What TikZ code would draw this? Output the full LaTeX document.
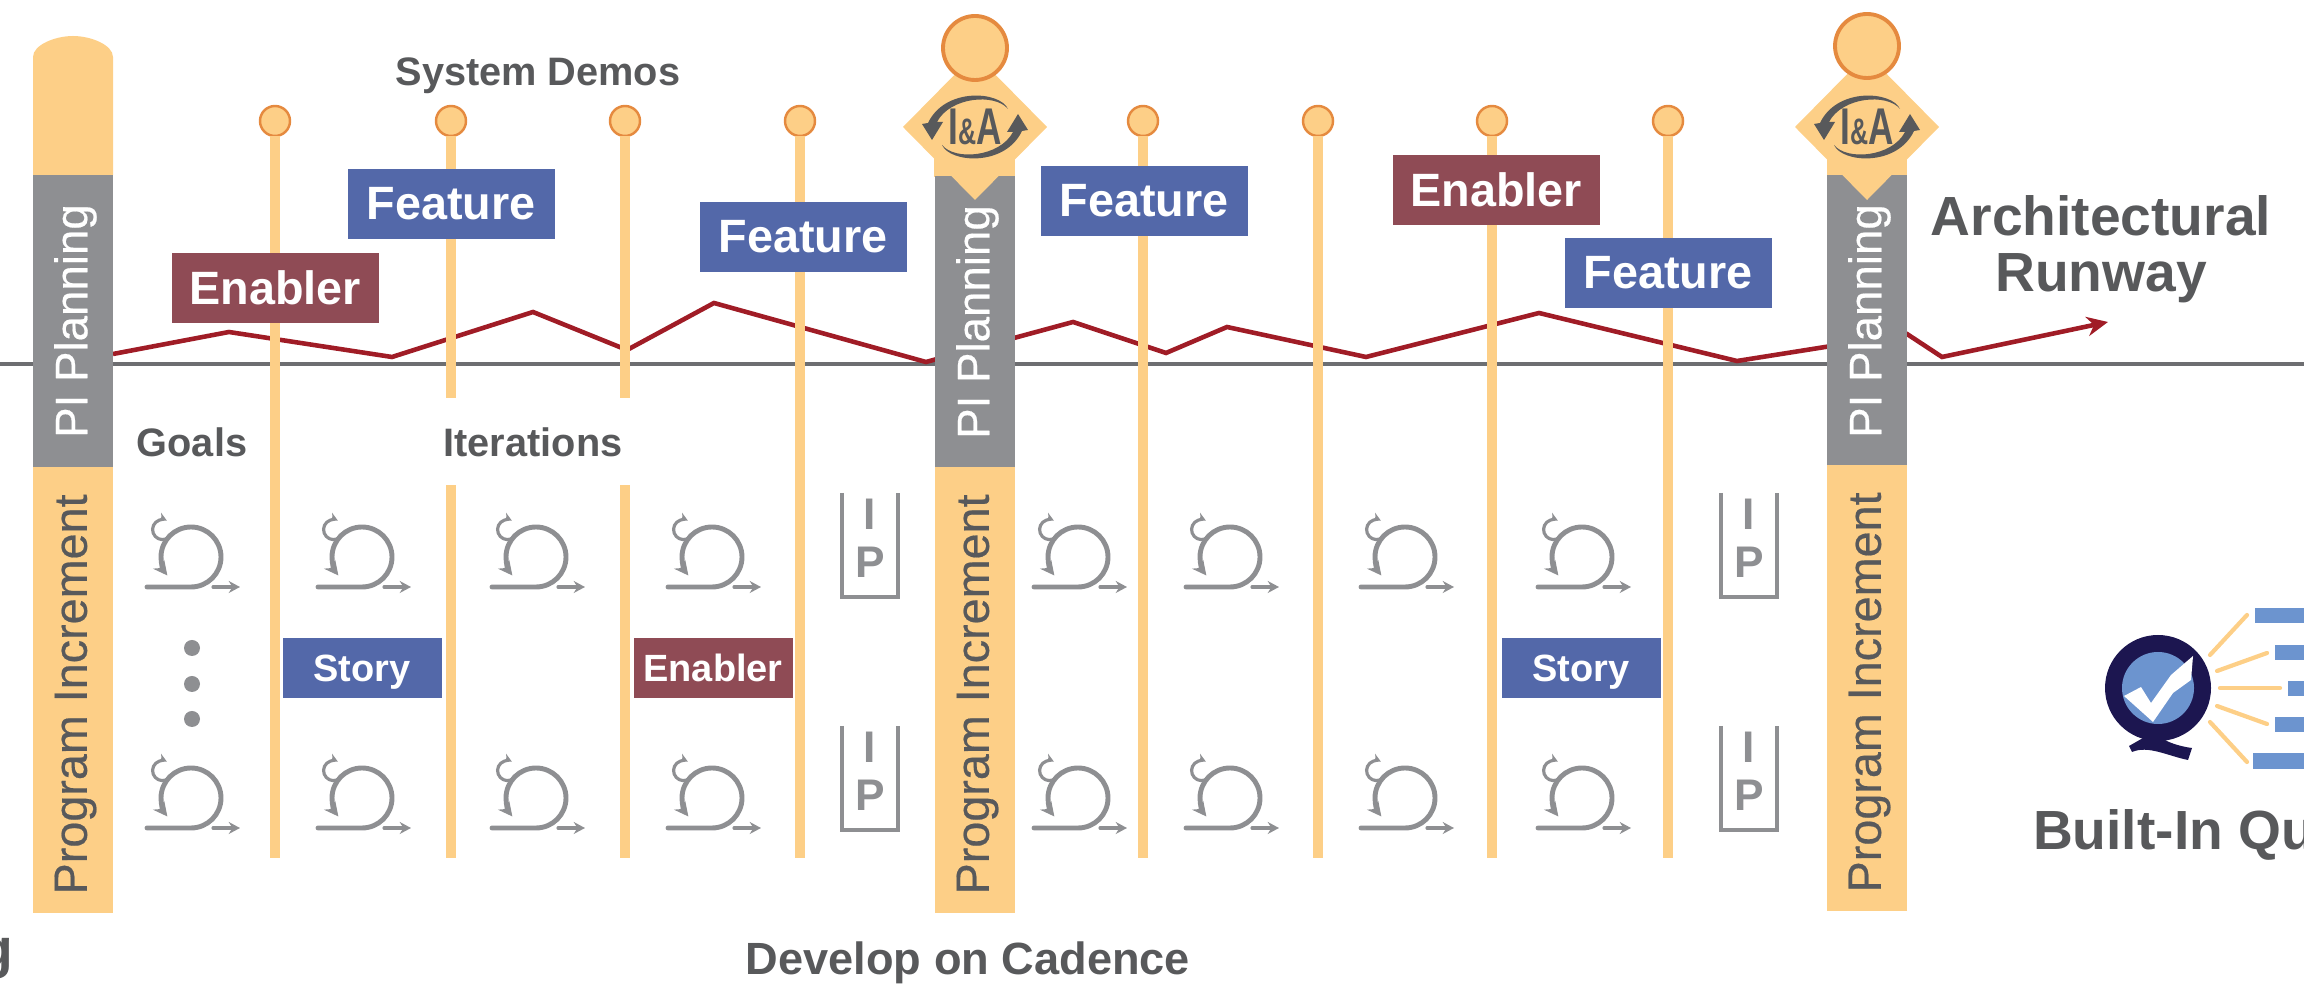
\documentclass[tikz,border=0pt]{standalone}
\usepackage{fontspec}
\setmainfont{Liberation Sans}
\newfontfamily\barfont[FakeBold=0.4]{Liberation Sans}
\usetikzlibrary{arrows.meta,shapes.geometric}
\definecolor{barorange}{HTML}{FDCF87}
\definecolor{ringorange}{HTML}{E58A3F}
\definecolor{bargray}{HTML}{8E8F92}
\definecolor{linegray}{HTML}{6D6E71}
\definecolor{textgray}{HTML}{58595B}
\definecolor{featblue}{HTML}{5368A9}
\definecolor{enabred}{HTML}{8F4B55}
\definecolor{runwayred}{HTML}{A01C26}
\definecolor{navyq}{HTML}{1C1650}
\definecolor{blueq}{HTML}{6C94CF}
\tikzset{
    iterloop/.pic={
        \begin{scope}[y=0.1mm, draw=bargray, line cap=round]
            \draw[line width=1.4pt, -{Stealth[length=4pt,width=4pt]}] (0,0) -- (44,0) arc[start angle=-90, end angle=218, radius=30];
            \draw[line width=0.9pt, -{Stealth[length=2.4pt,width=2.6pt]}] (19,48) arc[start angle=-70, end angle=-295, radius=10];
            \draw[line width=0.9pt, -{Stealth[length=3.2pt,width=3.4pt]}] (66,0) -- (93,0);
        \end{scope}
    },
    ipbox/.pic={
        \begin{scope}[y=0.1mm]
            \draw[draw=bargray, line width=1.4pt] (-28,104) -- (-28,0) -- (28,0) -- (28,104);
            \node[iptext] (i) at (0,83) {I};
            \node[iptext] (p) at (0,35) {P};
        \end{scope}
    },
    iacycle/.pic={
        \begin{scope}[y=0.1mm]
            \foreach \r in {0,180} {
                \fill[textgray, rotate=\r] (33,18) .. controls (25,36) and (-30,40) .. (-47,4) -- (-53,3) -- (-43,-13) -- (-32,5) -- (-38,5) .. controls (-25,30) and (20,34) .. (33,18) -- cycle;
            }
        \end{scope}
    },
    qualityq/.pic={
        \begin{scope}[y=0.1mm]
            \fill[navyq] (0,0) circle[radius=53];
            \fill[navyq] (-15,-50) -- (-29,-58) -- (-26,-64) .. controls (-10,-57) and (10,-68) .. (30,-72) -- (34,-60) .. controls (18,-58) and (5,-52) .. (5,-50) -- cycle;
            \fill[blueq] (0,0) circle[radius=36];
            \fill[white] (-34,-8) -- (-17,1) -- (-7,-15) -- (13,13) -- (35,32) -- (33,8) -- (15,-5) -- (-5,-34) -- cycle;
        \end{scope}
    }
}
\begin{document}
\begin{tikzpicture}[
        x=0.1mm, y=-0.1mm,
        every node/.style={inner sep=0pt, outer sep=0pt, align=center},
        graytext/.style={text=textgray, font=\bfseries\fontsize{11.3}{13}\selectfont},
        bigtext/.style={text=textgray, font=\bfseries\fontsize{15.7}{16.2}\selectfont},
        bigbox/.style={rectangle, minimum width=2.07cm, minimum height=0.70cm, text=white, font=\bfseries\fontsize{13.3}{15}\selectfont},
        smallbox/.style={rectangle, minimum width=1.59cm, minimum height=0.60cm, text depth=0pt, text=white, font=\bfseries\fontsize{10.8}{12}\selectfont},
        feature/.style={bigbox, fill=featblue},
        enabler/.style={bigbox, fill=enabred},
        smallfeature/.style={smallbox, fill=featblue},
        smallenabler/.style={smallbox, fill=enabred},
        planbar/.style={rectangle, rotate=90, minimum width=2.92cm, minimum height=0.80cm, text depth=1.3pt, fill=bargray, text=white, font=\barfont\fontsize{13}{15}\selectfont},
        incrbar/.style={rectangle, rotate=90, minimum width=4.46cm, minimum height=0.80cm, text depth=1.3pt, fill=barorange, text=textgray, font=\barfont\fontsize{13.3}{15}\selectfont},
        demodot/.style={circle, minimum size=0.30cm, fill=barorange, draw=ringorange, line width=0.7pt},
        bigdot/.style={circle, minimum size=0.64cm, fill=barorange, draw=ringorange, line width=1.1pt},
        iadiamond/.style={diamond, minimum width=1.44cm, minimum height=1.46cm, fill=barorange},
        iatext/.style={text=textgray, font=\bfseries\fontsize{14.7}{15}\selectfont},
        iptext/.style={text=bargray, font=\bfseries\fontsize{12.6}{14}\selectfont},
        cadence/.style={draw=barorange, line width=2.65pt},
        ray/.style={draw=barorange, line width=1.2pt, line cap=round}
    ]
        \path[use as bounding box, clip] (0,0) rectangle (2304,996);

        % Runway
        \draw[linegray, line width=1pt] (0,364) -- (2304,364);
        \coordinate (runwayend) at (2108,322);
        \draw[runwayred, line width=1.3pt, -{Stealth[length=6pt,width=5.5pt]}] (113,354) -- (229,332) -- (392,357) -- (533,312) -- (627,350) -- (714,303) -- (926,362) -- (1014,338) -- (1073,322) -- (1166,353) -- (1227,327) -- (1366,357) -- (1539,313) -- (1737,361) -- (1907,334) -- (1942,357) -- (runwayend);

        % Iteration lines
        \foreach \x/\n in {275/a,451/b,625/c,800/d,1143/e,1318/f,1492/g,1668/h} {
            \node[demodot] (dot\n) at (\x,121) {};
            \coordinate (foot\n) at (\x,858);
            \draw[cadence] (dot\n) -- (foot\n);
        }

        % Planning bars
        \fill[barorange] (33,175) -- (33,57) .. controls (33,45) and (55,36) .. (73,36) .. controls (91,36) and (113,45) .. (113,57) -- (113,175) -- cycle;
        \fill[barorange] (934,127) rectangle (1015,177);
        \fill[barorange] (1827,127) rectangle (1907,177);
        \node[planbar] (plan1) at (73,321) {PI Planning};
        \node[incrbar] (incr1) at (73,690) {Program Increment\hspace{2.5pt}};
        \node[planbar] (plan2) at (975,322) {PI Planning};
        \node[incrbar] (incr2) at (975,690) {Program Increment\hspace{2.5pt}};
        \node[planbar] (plan3) at (1867,321) {PI Planning};
        \node[incrbar] (incr3) at (1867,688) {Program Increment\hspace{2.5pt}};

        % I&A
        \foreach \x/\n/\t in {975/1/48,1867/2/46} {
            \node[iadiamond] (diam\n) at (\x,127) {};
            \node[bigdot] (top\n) at (\x,\t) {};
            \pic at (diam\n) {iacycle};
            \node[iatext] (ia\n) at (\x,127) {\scalebox{0.68}[1]{I{\fontsize{10.5}{11}\selectfont\&}A}};
        }

        % Labels
        \node[graytext] (demos) at (538,76) {System Demos};
        \node[graytext] (goals) at (192,442) {Goals};
        \node[graytext, fill=white, minimum width=2cm, minimum height=0.87cm] (iters) at (533,442) {Iterations};
        \node[bigtext, anchor=base] (runway) at (2101,292) {Architectural\\Runway};
        \node[graytext, font=\bfseries\fontsize{12.85}{15}\selectfont, anchor=base] (develop) at (968,975) {Develop on Cadence};
        \node[bigtext, anchor=base east] (lefttail) at (13,968) {g};
        \node[bigtext, anchor=base west] (builtin) at (2033,850) {Built-In Qu};

        % Work items
        \node[enabler] (en1) at (275,288) {Enabler};
        \node[feature] (fe1) at (451,204) {Feature};
        \node[feature] (fe2) at (803,237) {Feature};
        \node[feature] (fe3) at (1144,201) {Feature};
        \node[enabler] (en2) at (1496,190) {Enabler};
        \node[feature] (fe4) at (1668,273) {Feature};
        \node[smallfeature] (st1) at (362,668) {Story};
        \node[smallenabler] (en3) at (713,668) {Enabler};
        \node[smallfeature] (st2) at (1581,668) {Story};

        % Iterations
        \foreach \x in {147,318,492,668,1034,1186,1361,1538} {
            \foreach \y in {587,828} {
                \pic at (\x,\y) {iterloop};
            }
        }
        \foreach \x in {870,1749} {
            \foreach \y in {597,830} {
                \pic at (\x,\y) {ipbox};
            }
        }
        \foreach \y in {648,684,719} {
            \fill[bargray] (192,\y) circle[radius=8];
        }

        % Built-in quality
        \pic at (2158,688) {qualityq};
        \draw[ray] (2210,655) -- (2247,615);
        \draw[ray] (2217,671) -- (2267,653);
        \draw[ray] (2220,688) -- (2280,688);
        \draw[ray] (2217,706) -- (2267,724);
        \draw[ray] (2210,722) -- (2247,762);
        \fill[blueq] (2255,608) rectangle (2304,623);
        \fill[blueq] (2275,645) rectangle (2304,660);
        \fill[blueq] (2288,681) rectangle (2304,696);
        \fill[blueq] (2275,717) rectangle (2304,732);
        \fill[blueq] (2253,753) rectangle (2304,769);
    \end{tikzpicture}
\end{document}
